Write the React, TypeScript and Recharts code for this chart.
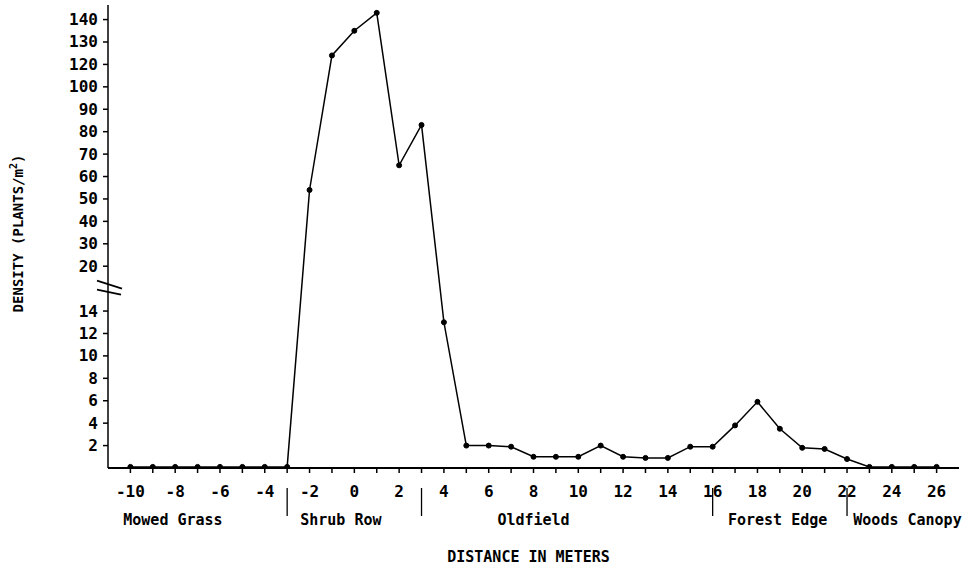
import React from 'react';
import { LineChart, Line, XAxis, YAxis } from 'recharts';

// Distance along transect (m)
const distances = [-10, -9, -8, -7, -6, -5, -4, -3, -2, -1, 0, 1, 2, 3, 4, 5, 6, 7, 8, 9, 10, 11, 12, 13, 14, 15, 16, 17, 18, 19, 20, 21, 22, 23, 24, 25, 26];
// Density (plants/m^2)
const density = [0.1, 0.1, 0.1, 0.1, 0.1, 0.1, 0.1, 0.1, 54, 124, 135, 143, 65, 83, 13, 2, 2, 1.9, 1, 1, 1, 2, 1, 0.9, 0.9, 1.9, 1.9, 3.8, 5.9, 3.5, 1.8, 1.7, 0.8, 0.1, 0.1, 0.1, 0.1];

const xTickLabels = [-10, -8, -6, -4, -2, 0, 2, 4, 6, 8, 10, 12, 14, 16, 18, 20, 22, 24, 26];
const yLowerTicks = [2, 4, 6, 8, 10, 12, 14];
const yUpperTicks = [20, 30, 40, 50, 60, 70, 80, 90, 100, 120, 130, 140];

const regionNames = ['Mowed Grass', 'Shrub Row', 'Oldfield', 'Forest Edge', 'Woods Canopy'];
const regionLabelCenters = [-8.1, -0.6, 8.0, 18.9, 24.7];
const regionBoundaries = [-3, 3, 16, 22];

const FONT = '"DejaVu Sans Mono", "Liberation Mono", monospace';

// Broken axis: map a real value to a position on the (equally spaced) tick ladder
const anchors: [number, number][] = [[0, 0]];
yLowerTicks.forEach((v, i) => anchors.push([v, i + 1]));
const BREAK_POS = yLowerTicks.length + 1;
yUpperTicks.forEach((v, i) => anchors.push([v, BREAK_POS + 1 + i]));

function toPos(v: number): number {
  for (let i = 1; i < anchors.length; i++) {
    const [v0, p0] = anchors[i - 1];
    const [v1, p1] = anchors[i];
    if (v <= v1) return p0 + ((v - v0) / (v1 - v0)) * (p1 - p0);
  }
  const [vl, pl] = anchors[anchors.length - 1];
  return pl + (v - vl) / 10;
}

const posToLabel = new Map<number, number>();
anchors.slice(1).forEach(([v, p]) => posToLabel.set(p, v));
const yTicks = [...anchors.slice(1).map(([, p]) => p), BREAK_POS].sort((a, b) => a - b);
const yTop = toPos(143) + 0.35;

const data = distances.map((d, i) => ({ x: d, pos: toPos(density[i]), value: density[i] }));

const YTick = (props: any) => {
  const { x, y, payload } = props;
  const p = payload.value;
  if (p === BREAK_POS) {
    return (
      <g>
        <line x1={x - 11} y1={y - 8} x2={x + 14} y2={y} stroke="#000" strokeWidth={1.6} />
        <line x1={x - 11} y1={y + 1} x2={x + 13} y2={y + 6} stroke="#000" strokeWidth={1.6} />
      </g>
    );
  }
  return (
    <g>
      <line x1={x - 5} y1={y} x2={x} y2={y} stroke="#000" strokeWidth={1.5} />
      <text x={x - 10} y={y} textAnchor="end" dominantBaseline="central" fontFamily={FONT} fontWeight="bold" fontSize={16} fill="#000">
        {posToLabel.get(p)}
      </text>
    </g>
  );
};

const XTick = (props: any) => {
  const { x, y, payload } = props;
  if (!xTickLabels.includes(payload.value)) return <g />;
  return (
    <text x={x} y={y + 24} textAnchor="middle" fontFamily={FONT} fontWeight="bold" fontSize={16} fill="#000">
      {String(payload.value)}
    </text>
  );
};

const RegionTick = (props: any) => {
  const { x, y, payload } = props;
  const v = payload.value;
  const bi = regionBoundaries.indexOf(v);
  if (bi >= 0) {
    return <line x1={x} y1={y - 10} x2={x} y2={y + 18} stroke="#000" strokeWidth={1.3} />;
  }
  const ri = regionLabelCenters.indexOf(v);
  if (ri < 0) return <g />;
  return (
    <text x={x} y={y + 27} textAnchor="middle" fontFamily={FONT} fontWeight="bold" fontSize={15} fill="#000">
      {regionNames[ri]}
    </text>
  );
};

const YLabel = (props: any) => {
  const vb = props.viewBox;
  const cx = vb.x - 32;
  const cy = vb.y + vb.height / 2 - 3;
  return (
    <text x={cx} y={cy} transform={`rotate(-90 ${cx} ${cy})`} textAnchor="middle" dominantBaseline="central" fontFamily={FONT} fontWeight="bold" fontSize={14} fill="#000">
      DENSITY (PLANTS/m<tspan dy={-5} fontSize={10}>2</tspan><tspan dy={5}>)</tspan>
    </text>
  );
};

const XLabel = (props: any) => {
  const vb = props.viewBox;
  return (
    <text x={vb.x + vb.width / 2 - 5} y={vb.y + 64} textAnchor="middle" fontFamily={FONT} fontWeight="bold" fontSize={15} fill="#000">
      DISTANCE IN METERS
    </text>
  );
};

export default function App() {
  return (
    <div style={{ position: 'absolute', left: 0, top: 0, background: '#fff' }}>
      <LineChart width={977} height={568} data={data} margin={{ top: 5, right: 18, bottom: 4, left: 50 }}>
        <XAxis
          dataKey="x"
          type="number"
          domain={[-11, 27]}
          ticks={distances}
          interval={0}
          height={30}
          tickSize={5}
          tickMargin={0}
          tick={<XTick />}
          axisLine={{ stroke: '#000', strokeWidth: 1.8 }}
          tickLine={{ stroke: '#000', strokeWidth: 1.5 }}
        />
        <XAxis
          xAxisId="region"
          dataKey="x"
          type="number"
          domain={[-11, 27]}
          allowDataOverflow
          ticks={[...regionLabelCenters, ...regionBoundaries]}
          interval={0}
          height={66}
          tickSize={0}
          tickMargin={0}
          axisLine={false}
          tickLine={false}
          tick={<RegionTick />}
          label={<XLabel />}
        />
        <YAxis
          type="number"
          domain={[0, yTop]}
          ticks={yTicks}
          interval={0}
          width={58}
          tickSize={0}
          tickMargin={0}
          tickLine={false}
          tick={<YTick />}
          axisLine={{ stroke: '#000', strokeWidth: 1.5 }}
          label={<YLabel />}
          allowDataOverflow
        />
        <Line
          type="linear"
          dataKey="pos"
          stroke="#000"
          strokeWidth={1.5}
          dot={{ r: 2.5, fill: '#000', stroke: '#000', strokeWidth: 1 }}
          isAnimationActive={false}
        />
      </LineChart>
    </div>
  );
}
